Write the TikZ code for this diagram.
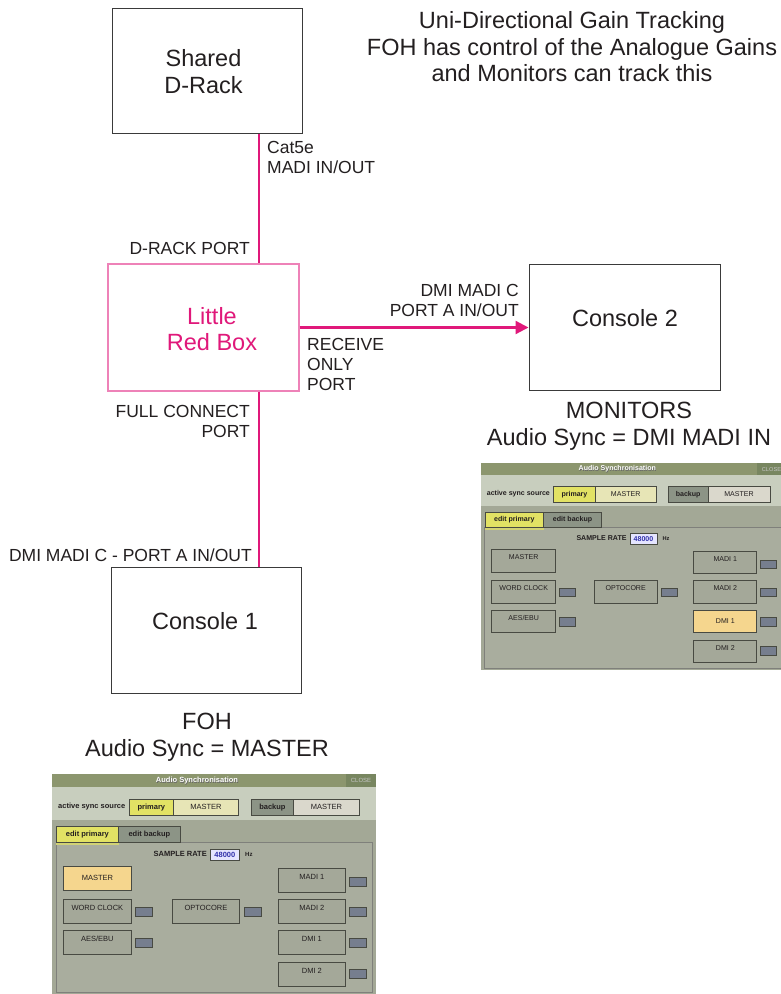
\documentclass[tikz,border=0pt]{standalone}
\usepackage{fontspec}
\setmainfont{Liberation Sans}
\usetikzlibrary{arrows.meta}
\definecolor{mag}{HTML}{E0187A}
\definecolor{magl}{HTML}{EE82B8}
\definecolor{boxd}{HTML}{3A3A3A}
\definecolor{txt}{HTML}{231F20}
\definecolor{ptitle}{RGB}{140,150,110}
\definecolor{pclose}{RGB}{120,134,96}
\definecolor{pband}{RGB}{200,206,190}
\definecolor{pbg}{RGB}{163,168,150}
\definecolor{ppane}{RGB}{169,173,158}
\definecolor{pbtn}{RGB}{164,168,153}
\definecolor{pyellow}{RGB}{226,226,100}
\definecolor{plyellow}{RGB}{231,229,182}
\definecolor{pgrayb}{RGB}{140,148,134}
\definecolor{plgray}{RGB}{218,216,204}
\definecolor{porange}{RGB}{245,214,142}
\definecolor{pind}{RGB}{118,126,142}
\definecolor{pline}{RGB}{72,74,66}
\definecolor{pblue}{RGB}{50,50,170}
\newcommand\myBig{\fontsize{23.5}{26.5}\selectfont}
\newcommand\myLab{\fontsize{17.5}{20}\selectfont}
\newcommand\myPan{\fontsize{7.5}{9}\selectfont}
\newcommand\syncpanel[2]{%
  \fill[pbg] (0,0) rectangle (324,220);
  \fill[ptitle] (0,0) rectangle (324,13);
  \fill[pclose] (294,0) rectangle (324,13);
  \node[font=\myPan\bfseries, text=black!60, inner sep=0pt] (titlesh) at (145.6,7.1) {Audio Synchronisation};
  \node[font=\myPan\bfseries, text=white, inner sep=0pt] (title) at (145,6.5) {Audio Synchronisation};
  \node[font=\fontsize{6}{7}\selectfont, text=white!78!black, inner sep=0pt] (close) at (309,6.5) {CLOSE};
  \fill[pband] (0,13) rectangle (324,46);
  \node[font=\myPan\bfseries, text=txt, inner sep=0pt, anchor=west] (src) at (6,33) {active sync source};
  \node[field, fill=pyellow, minimum width=44pt, font=\myPan\bfseries] (prim) at (77,25) {primary};
  \node[field, fill=plyellow, minimum width=65pt] (pmast) at (121,25) {MASTER};
  \node[field, fill=pgrayb, minimum width=42pt, font=\myPan\bfseries] (bkup) at (199,25) {backup};
  \node[field, fill=plgray, minimum width=66pt] (bmast) at (241,25) {MASTER};
  \draw[draw=pline!70, fill=ppane, line width=0.8pt] (4,68) rectangle (320,218);
  \node[field, fill=pyellow, minimum width=62pt, font=\myPan\bfseries] (tabp) at (4,52) {edit primary};
  \node[field, fill=pgrayb, minimum width=62pt, font=\myPan\bfseries] (tabb) at (66,52) {edit backup};
  \fill[pyellow!70!ppane] (tabp.south west) rectangle ([yshift=-2pt]tabp.south east);
  \node[font=\myPan\bfseries, text=txt, inner sep=0pt, anchor=east] (srate) at (155,80) {SAMPLE RATE};
  \node[field, fill=white!90!blue, minimum width=29pt, minimum height=11pt, text=pblue, font=\myPan\bfseries] (rate) at (158,75) {48000};
  \node[font=\fontsize{6}{7}\selectfont\bfseries, text=txt, inner sep=0pt, anchor=west] (hz) at (193,80) {Hz};
  \node[#1] (bmaster) at (11,92) {MASTER};
  \node[btn] (bword) at (11,125) {WORD CLOCK};
  \node[ind] (iword) at (83,133) {};
  \node[btn] (baes) at (11,156) {AES/EBU};
  \node[ind] (iaes) at (83,164) {};
  \node[btn, minimum width=67pt] (bopto) at (120,125) {OPTOCORE};
  \node[ind] (iopto) at (192,133) {};
  \node[btn, minimum width=67pt] (bmadia) at (226,94) {MADI 1};
  \node[ind] (imadia) at (297,103) {};
  \node[btn, minimum width=67pt] (bmadib) at (226,125) {MADI 2};
  \node[ind] (imadib) at (297,133) {};
  \node[#2, minimum width=67pt] (bdmia) at (226,156) {DMI 1};
  \node[ind] (idmia) at (297,164) {};
  \node[btn, minimum width=67pt, minimum height=22pt] (bdmib) at (226,188) {DMI 2};
  \node[ind] (idmib) at (297,195) {};
}
\begin{document}
\begin{tikzpicture}[x=1pt, y=-1pt,
  pinkline/.style={draw=mag, line width=2.2pt},
  boxst/.style={draw=boxd, line width=1pt, inner sep=0pt},
  bigtext/.style={font=\myBig, align=center, inner sep=0pt, text=txt},
  labtext/.style={font=\myLab, inner sep=0pt, text=txt},
  field/.style={draw=pline, line width=0.8pt, anchor=north west, minimum height=16pt, inner sep=0pt, font=\myPan, text=txt},
  btn/.style={draw=pline, line width=0.8pt, anchor=north west, fill=pbtn, minimum width=68pt, inner xsep=0pt, inner ysep=5.3pt, text height=5.4pt, text depth=7.5pt, font=\myPan, text=txt},
  selbtn/.style={btn, fill=porange, text depth=0pt, inner ysep=0pt, minimum height=23.5pt},
  ind/.style={draw=pline, line width=0.8pt, anchor=north west, fill=pind, minimum width=16.5pt, minimum height=9pt, inner sep=0pt},
]
\useasboundingbox[fill=white] (0,0) rectangle (781,994);

\coordinate (vx) at (259,0);
\node[boxst, minimum width=190pt, minimum height=125pt] (drack) at (207,70.5) {};
\node[boxst, draw=magl, line width=1.3pt, minimum width=191pt, minimum height=127pt] (lrb) at (203.5,327.5) {};
\node[boxst, minimum width=191pt, minimum height=126pt] (con2) at (624.5,327) {};
\node[boxst, minimum width=190pt, minimum height=126pt] (con1) at (206,630) {};

\draw[pinkline] (drack.south -| vx) -- (lrb.north -| vx);
\draw[pinkline] (lrb.south -| vx) -- (con1.north -| vx);
\draw[pinkline, -{Triangle[length=13pt, width=13pt]}] (lrb.east) -- (lrb.east -| con2.west);

\node[bigtext] (drackt) at (203.5,71.5) {Shared\\D-Rack};
\node[bigtext, text=mag] (lrbt) at (212,329) {Little\\Red Box};
\node[bigtext] (con2t) at (625,318) {Console 2};
\node[bigtext] (con1t) at (205,621) {Console 1};

\node[bigtext] (title) at (572,47) {Uni-Directional Gain Tracking\\FOH has control of the Analogue Gains\\and Monitors can track this};

\node[labtext, align=left, anchor=west] (cat) at (267,157) {Cat5e\\MADI IN/OUT};
\node[labtext, anchor=east] (drport) at (250,248) {D-RACK PORT};
\node[labtext, align=right, anchor=east] (dmic) at (519,300) {DMI MADI C\\PORT A IN/OUT};
\node[labtext, align=left, anchor=west] (recv) at (307,364) {RECEIVE\\ONLY\\PORT};
\node[labtext, align=right, anchor=east] (full) at (250,421) {FULL CONNECT\\PORT};
\node[labtext, anchor=east] (dmic1) at (252,555) {DMI MADI C - PORT A IN/OUT};

\node[bigtext] (mon) at (629,426) {MONITORS\\Audio Sync = DMI MADI IN};
\node[bigtext] (foh) at (207,737) {FOH\\Audio Sync = MASTER};

\begin{scope}[shift={(52,774)}, name prefix=foh-]
  \syncpanel{selbtn}{btn}
\end{scope}
\begin{scope}[shift={(481,463)}, scale=0.94, transform shape, name prefix=mon-]
  \syncpanel{btn}{selbtn}
\end{scope}
\end{tikzpicture}
\end{document}
